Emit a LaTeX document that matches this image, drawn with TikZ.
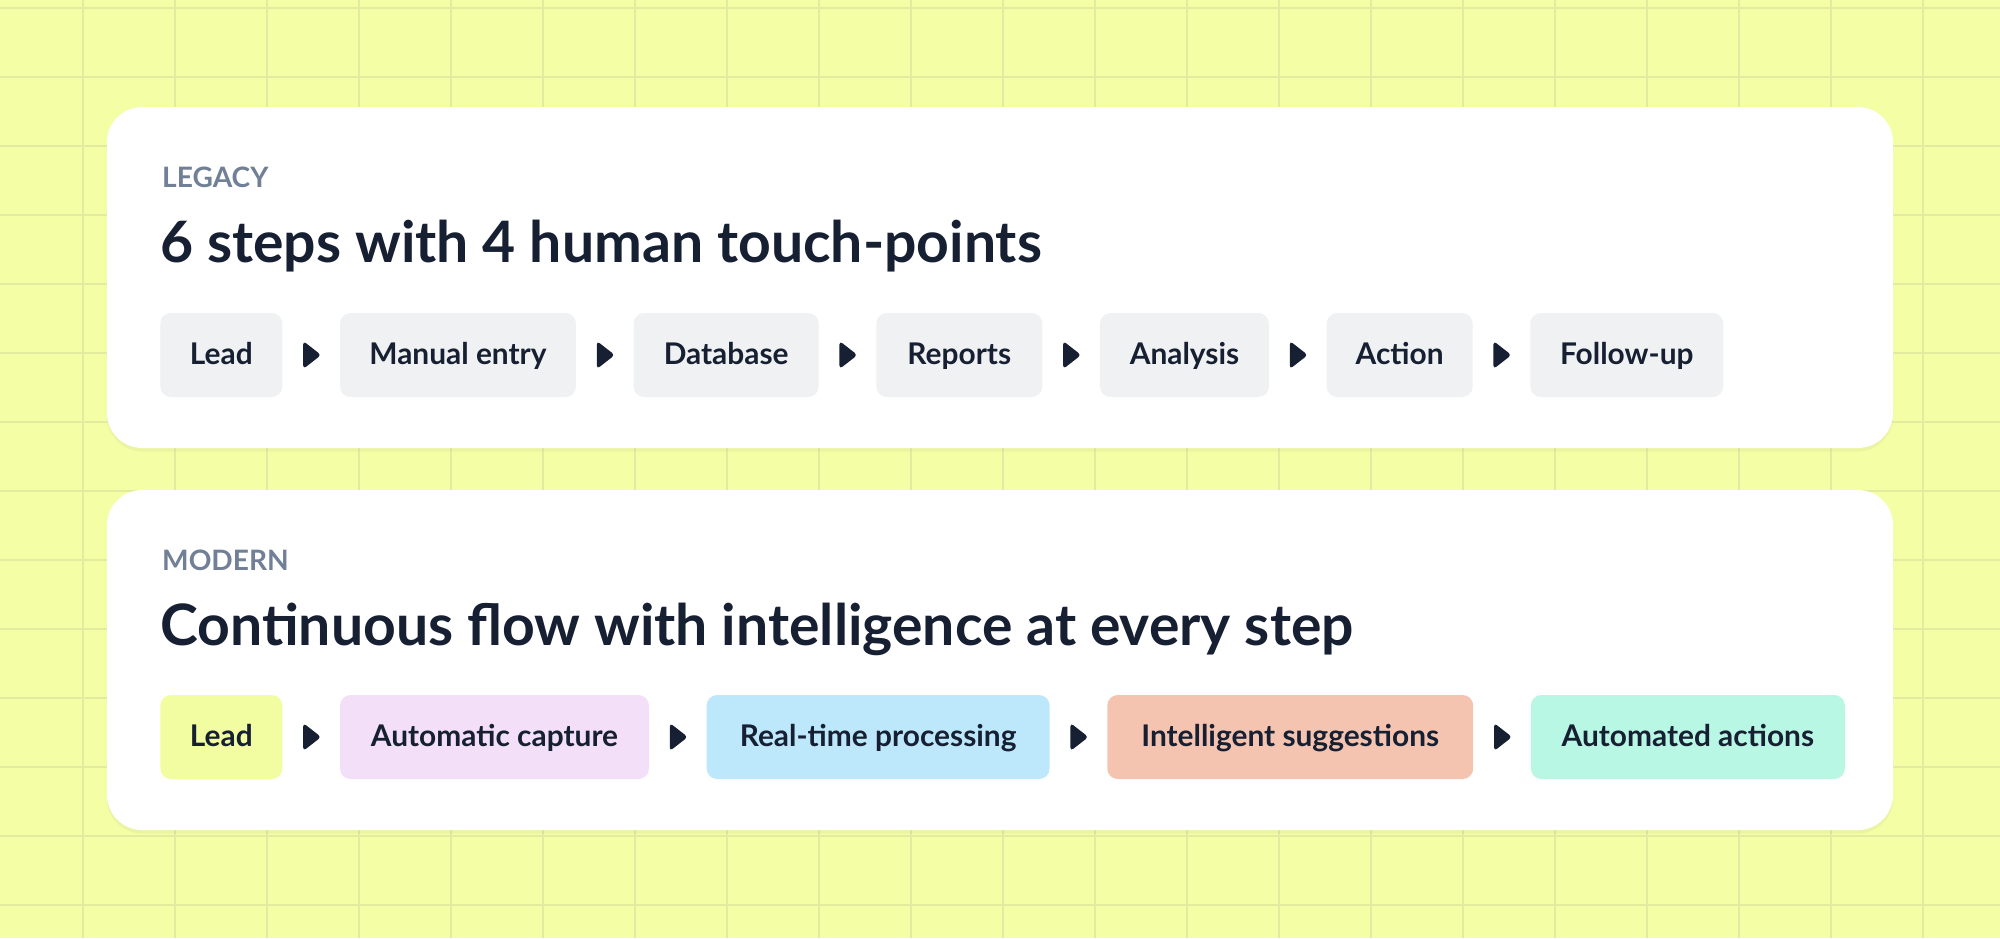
\documentclass[tikz,border=0pt]{standalone}
\usepackage{fontspec}
\setmainfont{Lato}
\usetikzlibrary{positioning, calc, shadows}
\definecolor{bgyellow}{RGB}{244, 254, 164}
\definecolor{gridline}{RGB}{226, 236, 160}
\definecolor{inkdark}{RGB}{22, 32, 50}
\definecolor{labelgray}{RGB}{113, 128, 150}
\definecolor{boxgray}{RGB}{240, 241, 243}
\definecolor{leadyellow}{RGB}{242, 252, 160}
\definecolor{capturepink}{RGB}{243, 223, 247}
\definecolor{realblue}{RGB}{189, 232, 251}
\definecolor{suggestsalmon}{RGB}{245, 196, 176}
\definecolor{actionmint}{RGB}{184, 247, 228}

\tikzset{
  card/.style={fill=white, rounded corners=20pt, drop shadow={opacity=0.08, shadow xshift=0pt, shadow yshift=-2pt}},
  stepbox/.style={fill=boxgray, rounded corners=6pt, minimum height=1.68cm, inner xsep=0pt,
    text height=2.1ex, text depth=0.05ex,
    font=\fontsize{17}{20}\selectfont\bfseries, text=inkdark},
  kicker/.style={anchor=base west, font=\fontsize{16}{18}\selectfont\bfseries, text=labelgray},
  headline/.style={anchor=base west, font=\fontsize{32.5}{36}\selectfont\bfseries, text=inkdark},
  chev/.style={fill=inkdark, rounded corners=2pt}
}
\newcommand{\chevron}[2]{%
  \coordinate (m) at ($(#1.east)!0.5!(#2.west)$);
  \fill[chev] ($(m)+(-8,-14)$) -- ($(m)+(10,0)$) -- ($(m)+(-8,14)$) -- cycle;}

\begin{document}
\begin{tikzpicture}[x=0.02cm, y=-0.02cm]
  \useasboundingbox (0,0) rectangle (2000,938);
  \fill[bgyellow] (0,0) rectangle (2000,938);
  % grid
  \foreach \gx in {83,175,...,2000} \draw[gridline, line width=1.2pt] (\gx,0) -- (\gx,938);
  \foreach \gy in {8,77,...,938} \draw[gridline, line width=1.2pt] (0,\gy) -- (2000,\gy);

  % cards
  \fill[card] (107,107) rectangle (1893,448);
  \fill[card] (107,490) rectangle (1893,830);

  % legacy
  \node[kicker] (legacy) at (156,187) {LEGACY};
  \node[headline] (legacytitle) at (154,262) {6 steps with 4 human touch-points};

  \node[stepbox, minimum width=2.44cm, anchor=west] (l1) at (160,355) {Lead};
  \node[stepbox, minimum width=4.72cm, right=1.14cm of l1] (l2) {Manual entry};
  \node[stepbox, minimum width=3.70cm, right=1.14cm of l2] (l3) {Database};
  \node[stepbox, minimum width=3.32cm, right=1.14cm of l3] (l4) {Reports};
  \node[stepbox, minimum width=3.38cm, right=1.14cm of l4] (l5) {Analysis};
  \node[stepbox, minimum width=2.92cm, right=1.14cm of l5] (l6) {Action};
  \node[stepbox, minimum width=3.86cm, right=1.14cm of l6] (l7) {Follow-up};
  \foreach \a/\b in {l1/l2,l2/l3,l3/l4,l4/l5,l5/l6,l6/l7} {\chevron{\a}{\b}}

  % modern
  \node[kicker] (modern) at (156,570) {MODERN};
  \node[headline] (moderntitle) at (154,645) {Continuous flow with intelligence at every step};

  \node[stepbox, fill=leadyellow, minimum width=2.44cm, anchor=west] (m1) at (160,737) {Lead};
  \node[stepbox, fill=capturepink, minimum width=6.18cm, right=1.14cm of m1] (m2) {Automatic capture};
  \node[stepbox, fill=realblue, minimum width=6.86cm, right=1.14cm of m2] (m3) {Real-time processing};
  \node[stepbox, fill=suggestsalmon, minimum width=7.32cm, right=1.14cm of m3] (m4) {Intelligent suggestions};
  \node[stepbox, fill=actionmint, minimum width=6.28cm, right=1.14cm of m4] (m5) {Automated actions};
  \foreach \a/\b in {m1/m2,m2/m3,m3/m4,m4/m5} {\chevron{\a}{\b}}
\end{tikzpicture}
\end{document}
